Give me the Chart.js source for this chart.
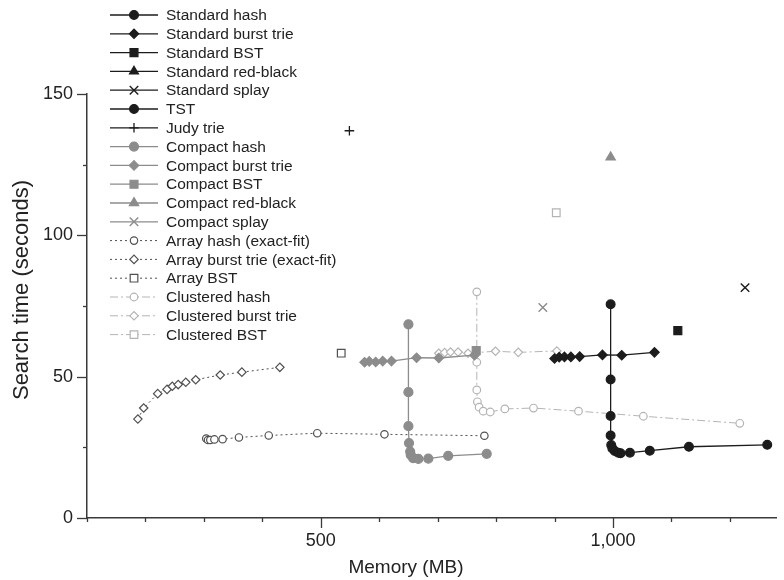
<!DOCTYPE html>
<html>
<head>
<meta charset="utf-8">
<script src="https://cdn.jsdelivr.net/npm/chart.js@4.4.0/dist/chart.umd.min.js"></script>
<style>
  html, body { margin: 0; padding: 0; background: #fff; }
  canvas { display: block; }
</style>
</head>
<body>
<canvas id="memChart" width="784" height="580" style="width:784px;height:580px"></canvas>
<script>
// Memory (MB) vs search time (seconds)
const stdHashMem = [996, 996, 996, 996, 997, 999, 1003, 1009, 1013, 1029, 1063, 1130, 1264];
const stdHashTime = [75.6, 49.0, 36.1, 29.2, 25.8, 24.6, 23.7, 23.1, 22.9, 23.1, 23.8, 25.2, 25.9];
const stdBurstMem = [900, 908, 917, 928, 943, 982, 1015, 1071];
const stdBurstTime = [56.4, 56.9, 57.0, 57.0, 57.1, 57.7, 57.6, 58.6];
const stdBstMem = [1111];
const stdBstTime = [66.3];
const stdRbMem = [];
const stdRbTime = [];
const stdSplayMem = [1226];
const stdSplayTime = [81.5];
const tstMem = [];
const tstTime = [];
const judyMem = [549];
const judyTime = [137];

const cmpHashMem = [650, 650, 650, 651, 653, 654, 658, 667, 684, 718, 784];
const cmpHashTime = [68.5, 44.5, 32.5, 26.5, 23.5, 22.3, 21.2, 20.9, 21.0, 22.0, 22.7];
const cmpBurstMem = [575, 583, 594, 606, 621, 664, 702, 763];
const cmpBurstTime = [55.1, 55.4, 55.2, 55.5, 55.5, 56.7, 56.6, 57.6];
const cmpBstMem = [766];
const cmpBstTime = [59.2];
const cmpRbMem = [996];
const cmpRbTime = [127.6];
const cmpSplayMem = [880];
const cmpSplayTime = [74.5];

const arrHashMem = [304, 307, 311, 318, 332, 360, 411, 494, 609, 780];
const arrHashTime = [28.1, 27.6, 27.6, 27.8, 27.9, 28.5, 29.2, 30.0, 29.6, 29.1];
const arrBurstMem = [187, 197, 221, 237, 246, 256, 269, 286, 328, 365, 430];
const arrBurstTime = [35.0, 38.9, 44.0, 45.5, 46.6, 47.2, 48.0, 48.9, 50.6, 51.6, 53.3];
const arrBstMem = [535];
const arrBstTime = [58.3];

const clHashMem = [767, 767, 767, 768, 771, 778, 790, 815, 864, 941, 1052, 1217];
const clHashTime = [80.0, 55.1, 45.3, 41.1, 39.2, 37.8, 37.5, 38.6, 38.9, 37.8, 36.0, 33.5];
const clBurstMem = [702, 712, 722, 735, 752, 799, 838, 904];
const clBurstTime = [58.3, 58.5, 58.7, 58.7, 58.3, 59.0, 58.6, 59.1];
const clBstMem = [903];
const clBstTime = [108];

// axes
const xTickValues = [100, 200, 300, 400, 500, 600, 700, 800, 900, 1000, 1100, 1200];
const xMajorTicks = [500, 1000];
const xMajorLabels = ['500', '1,000'];
const yTickValues = [0, 25, 50, 75, 100, 125, 150];
const yMajorTicks = [0, 50, 100, 150];
const xTitle = 'Memory (MB)';
const yTitle = 'Search time (seconds)';

const black = '#1c1c1c';
const gray = '#8c8c8c';
const dark = '#505050';
const light = '#b4b4b4';
const axisColor = '#3a3a3a';
const textColor = '#222';
const fontFam = '"Liberation Sans", Arial, Helvetica, sans-serif';

function pts(xs, ys) {
    return xs.map((x, i) => ({ x: x, y: ys[i] }));
}

// one helper so every series gets the same set of style keys
function series(label, xs, ys, st) {
    return {
        label: label,
        data: pts(xs, ys),
        showLine: xs.length > 1,
        borderColor: st.color,
        borderWidth: st.lw || 1.3,
        borderDash: st.dash || [],
        pointStyle: st.shape,
        pointRadius: st.r,
        pointHoverRadius: st.r,
        pointBackgroundColor: st.open ? '#fff' : st.color,
        pointBorderColor: st.color,
        pointBorderWidth: st.pbw || 1.2
    };
}

const arrDash = [2, 3];
const clDash = [8, 3, 2, 3];

const datasets = [
    series('Standard hash', stdHashMem, stdHashTime, { color: black, shape: 'circle', r: 4.4 }),
    series('Standard burst trie', stdBurstMem, stdBurstTime, { color: black, shape: 'rectRot', r: 4.7 }),
    series('Standard BST', stdBstMem, stdBstTime, { color: black, shape: 'rect', r: 5.6 }),
    series('Standard red-black', stdRbMem, stdRbTime, { color: black, shape: 'triangle', r: 5.2 }),
    series('Standard splay', stdSplayMem, stdSplayTime, { color: black, shape: 'crossRot', r: 6, pbw: 1.4 }),
    series('TST', tstMem, tstTime, { color: black, shape: 'circle', r: 4.4 }),
    series('Judy trie', judyMem, judyTime, { color: black, shape: 'cross', r: 4.8, pbw: 1.3 }),
    series('Compact hash', cmpHashMem, cmpHashTime, { color: gray, shape: 'circle', r: 4.5 }),
    series('Compact burst trie', cmpBurstMem, cmpBurstTime, { color: gray, shape: 'rectRot', r: 4.7 }),
    series('Compact BST', cmpBstMem, cmpBstTime, { color: gray, shape: 'rect', r: 5.6 }),
    series('Compact red-black', cmpRbMem, cmpRbTime, { color: gray, shape: 'triangle', r: 5.4 }),
    series('Compact splay', cmpSplayMem, cmpSplayTime, { color: gray, shape: 'crossRot', r: 6, pbw: 1.4 }),
    series('Array hash (exact-fit)', arrHashMem, arrHashTime, { color: dark, shape: 'circle', r: 3.7, open: true, dash: arrDash, lw: 1 }),
    series('Array burst trie (exact-fit)', arrBurstMem, arrBurstTime, { color: dark, shape: 'rectRot', r: 4.2, open: true, dash: arrDash, lw: 1 }),
    series('Array BST', arrBstMem, arrBstTime, { color: dark, shape: 'rect', r: 5.4, open: true, dash: arrDash, lw: 1 }),
    series('Clustered hash', clHashMem, clHashTime, { color: light, shape: 'circle', r: 3.8, open: true, dash: clDash, lw: 1 }),
    series('Clustered burst trie', clBurstMem, clBurstTime, { color: light, shape: 'rectRot', r: 4.2, open: true, dash: clDash, lw: 1 }),
    series('Clustered BST', clBstMem, clBstTime, { color: light, shape: 'rect', r: 5.4, open: true, dash: clDash, lw: 1 })
];

// legend drawn over the plot, top left, like the original figure
const legendLeft = 110, legendLen = 48, legendText = 166, legendTop = 15, legendRow = 18.8;

const overlayLegend = {
    id: 'overlayLegend',
    afterDraw(chart) {
        const ctx = chart.ctx;
        ctx.save();
        chart.data.datasets.forEach((ds, i) => {
            const y = legendTop + i * legendRow;
            ctx.strokeStyle = ds.borderColor;
            ctx.lineWidth = ds.borderWidth;
            ctx.setLineDash(ds.borderDash);
            ctx.beginPath();
            ctx.moveTo(legendLeft, y);
            ctx.lineTo(legendLeft + legendLen, y);
            ctx.stroke();
            ctx.setLineDash([]);
            ctx.fillStyle = ds.pointBackgroundColor;
            ctx.strokeStyle = ds.pointBorderColor;
            ctx.lineWidth = ds.pointBorderWidth;
            Chart.helpers.drawPoint(ctx, {
                pointStyle: ds.pointStyle,
                radius: ds.pointRadius,
                borderWidth: ds.pointBorderWidth,
                rotation: 0
            }, legendLeft + legendLen / 2, y);
            ctx.fillStyle = textColor;
            ctx.font = '15.5px ' + fontFam;
            ctx.textAlign = 'left';
            ctx.textBaseline = 'middle';
            ctx.fillText(ds.label, legendText, y + 1);
        });
        ctx.restore();
    }
};

// tick marks (long for labelled ticks, short otherwise) and axis titles
const axisDecor = {
    id: 'axisDecor',
    afterDraw(chart) {
        const ctx = chart.ctx;
        const xs = chart.scales.x, ys = chart.scales.y;
        const a = chart.chartArea;
        ctx.save();
        ctx.strokeStyle = axisColor;
        ctx.lineWidth = 1.3;
        xTickValues.forEach(v => {
            const px = Math.round(xs.getPixelForValue(v)) + 0.5;
            const len = xMajorTicks.includes(v) ? 10 : 4;
            ctx.beginPath();
            ctx.moveTo(px, a.bottom);
            ctx.lineTo(px, a.bottom + len);
            ctx.stroke();
        });
        yTickValues.forEach(v => {
            const py = Math.round(ys.getPixelForValue(v)) + 0.5;
            const len = yMajorTicks.includes(v) ? 10 : 4;
            ctx.beginPath();
            ctx.moveTo(a.left, py);
            ctx.lineTo(a.left - len, py);
            ctx.stroke();
        });
        ctx.fillStyle = textColor;
        ctx.font = '19px ' + fontFam;
        ctx.textAlign = 'center';
        ctx.textBaseline = 'alphabetic';
        ctx.fillText(xTitle, 406, 573);
        ctx.translate(28, 290);
        ctx.rotate(-Math.PI / 2);
        ctx.font = '22px ' + fontFam;
        ctx.fillText(yTitle, 0, 0);
        ctx.restore();
    }
};

new Chart(document.getElementById('memChart'), {
    type: 'scatter',
    data: { datasets: datasets },
    options: {
        responsive: false,
        animation: false,
        devicePixelRatio: 1,
        layout: { padding: { top: 94, right: 4, left: 0, bottom: 0 } },
        plugins: {
            legend: { display: false },
            tooltip: { enabled: false }
        },
        scales: {
            x: {
                type: 'linear',
                min: 100,
                max: 1280,
                afterBuildTicks: s => { s.ticks = xMajorTicks.map(v => ({ value: v })); },
                afterFit: s => { s.height = 62; },
                ticks: {
                    color: textColor,
                    font: { family: fontFam, size: 18 },
                    padding: 12,
                    maxRotation: 0,
                    callback: v => xMajorLabels[xMajorTicks.indexOf(v)]
                },
                grid: { drawOnChartArea: false, drawTicks: false },
                border: { color: axisColor, width: 1.5 }
            },
            y: {
                type: 'linear',
                min: 0,
                max: 150,
                afterBuildTicks: s => { s.ticks = yMajorTicks.map(v => ({ value: v })); },
                afterFit: s => { s.width = 87; },
                ticks: {
                    color: textColor,
                    font: { family: fontFam, size: 18 },
                    padding: 14
                },
                grid: { drawOnChartArea: false, drawTicks: false },
                border: { color: axisColor, width: 1.5 }
            }
        }
    },
    plugins: [axisDecor, overlayLegend]
});
</script>
</body>
</html>
